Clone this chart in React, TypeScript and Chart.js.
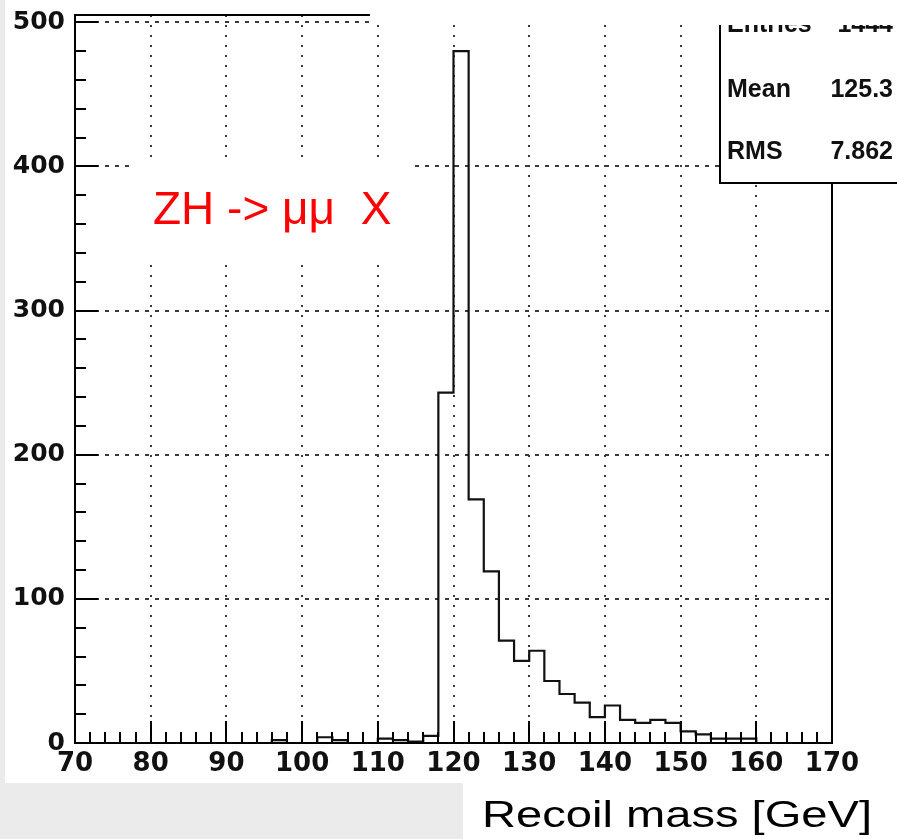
import React, { useEffect, useRef } from 'react';
import { Chart, registerables } from 'chart.js';

Chart.register(...registerables);

// Histogram bins (low edges, GeV) and counts per 2 GeV bin
const binLowEdges = [
  70, 72, 74, 76, 78, 80, 82, 84, 86, 88,
  90, 92, 94, 96, 98, 100, 102, 104, 106, 108,
  110, 112, 114, 116, 118, 120, 122, 124, 126, 128,
  130, 132, 134, 136, 138, 140, 142, 144, 146, 148,
  150, 152, 154, 156, 158, 160, 162, 164, 166, 168,
];
const binCounts = [
  0, 0, 0, 0, 0, 0, 0, 0, 0, 0,
  0, 0, 0, 2, 0, 0, 4, 2, 0, 0,
  3, 2, 1, 5, 243, 480, 169, 119, 71, 57,
  64, 43, 34, 28, 18, 26, 16, 14, 16, 14,
  8, 6, 3, 3, 3, 0, 0, 0, 0, 0,
];
const histUpperEdge = 170;

// Axis tick values
const xTickValues = [70, 80, 90, 100, 110, 120, 130, 140, 150, 160, 170];
const yTickValues = [0, 100, 200, 300, 400, 500];
const xMin = 70;
const xMax = 170;
const xMinorStep = 2;
const yMin = 0;
const yMax = 505;
const yMinorStep = 20;

const statsLabels = ['Entries', 'Mean', 'RMS'];
const statsValues = ['1444', '125.3', '7.862'];
const plotLabel = 'ZH -> \u03bc\u03bc  X';
const xAxisTitle = 'Recoil mass [GeV]';

const rootStylePlugin = {
  id: 'rootStyle',
  beforeDraw(chart: any) {
    const ctx = chart.ctx;
    ctx.save();
    ctx.fillStyle = '#ffffff';
    ctx.fillRect(0, 0, chart.width, chart.height);
    ctx.restore();
  },
  afterDatasetsDraw(chart: any) {
    const { ctx, chartArea: a } = chart;
    const xs = chart.scales.x;
    const ys = chart.scales.y;
    const xMajor = new Set(xTickValues);
    const yMajor = new Set(yTickValues);
    ctx.save();
    ctx.strokeStyle = '#000';
    ctx.lineWidth = 2;
    ctx.beginPath();
    // x ticks (inside the frame)
    for (let v = xMin; v <= xMax + 1e-9; v += xMinorStep) {
      const px = Math.round(xs.getPixelForValue(v));
      const len = xMajor.has(v) ? 22 : 11;
      ctx.moveTo(px, a.bottom);
      ctx.lineTo(px, a.bottom - len);
    }
    // y ticks
    for (let v = yMin; v <= yTickValues[yTickValues.length - 1] + 1e-9; v += yMinorStep) {
      const py = Math.round(ys.getPixelForValue(v));
      const len = yMajor.has(v) ? 23 : 11;
      ctx.moveTo(a.left, py);
      ctx.lineTo(a.left + len, py);
    }
    ctx.stroke();
    // frame
    ctx.strokeRect(a.left, a.top, a.right - a.left, a.bottom - a.top);
    ctx.restore();
  },
  afterDraw(chart: any) {
    const ctx = chart.ctx;
    ctx.save();
    // statistics box
    ctx.fillStyle = '#ffffff';
    ctx.fillRect(720, -10, 200, 193);
    ctx.strokeStyle = '#000';
    ctx.lineWidth = 2;
    ctx.strokeRect(720, -10, 200, 193);
    ctx.fillStyle = '#111';
    ctx.font = 'bold 25px "Liberation Sans"';
    ctx.textBaseline = 'alphabetic';
    const rowsY = [32, 97, 159];
    statsLabels.forEach((t, i) => {
      ctx.textAlign = 'left';
      ctx.fillText(t, 727, rowsY[i]);
      ctx.textAlign = 'right';
      ctx.fillText(statsValues[i], 893, rowsY[i]);
    });
    // white cover across the top right
    ctx.fillStyle = '#ffffff';
    ctx.fillRect(370, 0, 527, 25);
    // label box
    ctx.fillRect(133, 163, 277, 95);
    ctx.fillStyle = '#ff0000';
    ctx.textAlign = 'left';
    ctx.font = '46px "Liberation Sans"';
    ctx.fillText(plotLabel, 153, 224);
    // grey page background areas
    ctx.fillStyle = '#ebebeb';
    ctx.fillRect(0, 0, 5, chart.height);
    ctx.fillRect(0, 783, 463, chart.height - 783);
    // axis title
    ctx.fillStyle = '#000';
    ctx.font = '37px "Liberation Sans"';
    const w = ctx.measureText(xAxisTitle).width;
    const sx = 390 / w;
    ctx.translate(482, 827);
    ctx.scale(sx, 1);
    ctx.fillText(xAxisTitle, 0, 0);
    ctx.restore();
  },
};

export default function App() {
  const canvasRef = useRef<HTMLCanvasElement | null>(null);

  useEffect(() => {
    const canvas = canvasRef.current;
    if (!canvas) return;
    const points = binLowEdges.map((e, i) => ({ x: e, y: binCounts[i] }));
    points.push({ x: histUpperEdge, y: 0 });

    const chart = new Chart(canvas, {
      type: 'line',
      data: {
        datasets: [
          {
            data: points,
            stepped: 'before',
            borderColor: '#111',
            borderWidth: 2.2,
            pointRadius: 0,
            fill: false,
            tension: 0,
          } as any,
        ],
      },
      options: {
        animation: false,
        responsive: false,
        devicePixelRatio: 1,
        layout: { padding: { left: 0, right: 65, top: 15, bottom: 0 } },
        plugins: {
          legend: { display: false },
          tooltip: { enabled: false },
          title: { display: false },
        },
        scales: {
          x: {
            type: 'linear',
            min: xMin,
            max: xMax,
            afterBuildTicks: (s: any) => {
              s.ticks = xTickValues.map((v) => ({ value: v }));
            },
            ticks: {
              autoSkip: false,
              maxRotation: 0,
              color: '#111',
              padding: 8,
              font: { family: '"DejaVu Sans"', weight: 'bold', size: 26, lineHeight: 1 },
              callback: (v: any) => String(v),
            },
            grid: { color: '#3a3a3a', lineWidth: 2, drawTicks: false },
            border: { display: false, dash: [2, 8] },
            afterFit: (s: any) => {
              s.height = 96;
              s.paddingLeft = 0;
              s.paddingRight = 0;
            },
          } as any,
          y: {
            type: 'linear',
            min: yMin,
            max: yMax,
            afterBuildTicks: (s: any) => {
              s.ticks = yTickValues.map((v) => ({ value: v }));
            },
            ticks: {
              autoSkip: false,
              color: '#111',
              padding: 10,
              font: { family: '"DejaVu Sans"', weight: 'bold', size: 25, lineHeight: 1 },
              callback: (v: any) => String(v),
            },
            grid: { color: '#3a3a3a', lineWidth: 2, drawTicks: false },
            border: { display: false, dash: [4, 6] },
            afterFit: (s: any) => {
              s.width = 75;
              s.paddingTop = 0;
              s.paddingBottom = 0;
            },
          } as any,
        },
      },
      plugins: [rootStylePlugin],
    });
    return () => chart.destroy();
  }, []);

  return (
    <div style={{ position: 'fixed', left: 0, top: 0, width: 897, height: 839, background: '#fff' }}>
      <canvas ref={canvasRef} width={897} height={839} style={{ display: 'block', width: 897, height: 839 }} />
    </div>
  );
}
